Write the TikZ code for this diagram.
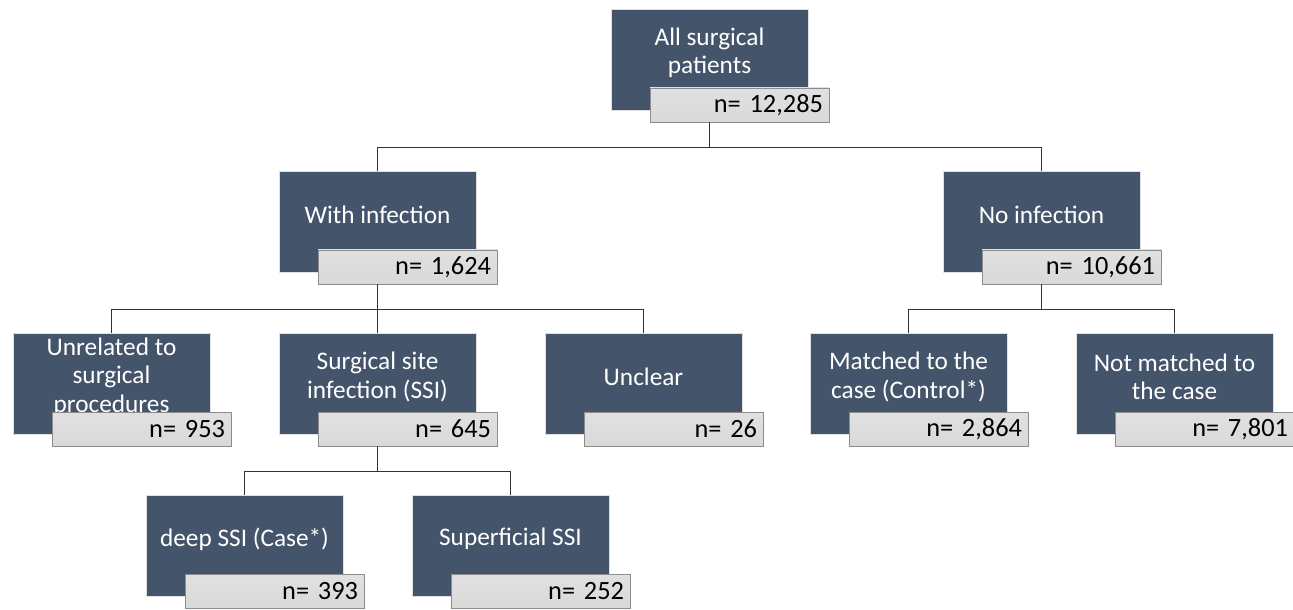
\documentclass[tikz,border=0pt]{standalone}
\usepackage{fontspec}
\setmainfont{Carlito}
\usetikzlibrary{calc}
\definecolor{slate}{HTML}{44546A}
\definecolor{countfill}{HTML}{D9D9D9}
\definecolor{countline}{HTML}{8C8C8C}
\tikzset{
  catbox/.style={draw=black!12,line width=0.4pt,fill=slate,minimum width=197*0.02cm,minimum height=101*0.02cm,inner sep=0pt},
  cattext/.style={text=white,align=center,font=\fontsize{14.4}{16.2}\selectfont,inner sep=0pt},
  countbox/.style={draw=countline,line width=0.5pt,top color=countfill!80,bottom color=countfill,minimum width=179*0.02cm,minimum height=34*0.02cm,text width=167*0.02cm,align=right,inner sep=0pt,font=\fontsize{15}{17}\selectfont},
  link/.style={draw=black!80,line width=0.9pt}
}
\begin{document}
\begin{tikzpicture}[x=0.02cm,y=0.02cm]
  % Constants
  \pgfmathsetmacro\cx{30}
  \pgfmathsetmacro\cy{-45}
  \pgfmathsetmacro\t{7}
  % Boundary
  \path[use as bounding box] (0,0) rectangle (1293,609);
  % Top
  \node[catbox] (all) at (709.5,549) {};
  \node[cattext] (alltext) at ($(all)+(0,\t)$) {All surgical\\patients};
  \node[countbox] (allcount) at ($(all)+(\cx,\cy)$) {n= 12,285};
  % Infection split
  \node[catbox] (withinf) at (377.5,387) {};
  \node[cattext] (withinftext) at ($(withinf)+(0,\t)$) {With infection};
  \node[countbox] (withinfcount) at ($(withinf)+(\cx,\cy)$) {n= 1,624};
  \node[catbox] (noinf) at (1041.5,387) {};
  \node[cattext] (noinftext) at ($(noinf)+(0,\t)$) {No infection};
  \node[countbox] (noinfcount) at ($(noinf)+(\cx,\cy)$) {n= 10,661};
  % Third row
  \node[catbox] (unrel) at (111.5,225) {};
  \node[cattext] (unreltext) at ($(unrel)+(0,\t)$) {Unrelated to\\surgical\\procedures};
  \node[countbox] (unrelcount) at ($(unrel)+(\cx,\cy)$) {n= 953};
  \node[catbox] (ssi) at (377.5,225) {};
  \node[cattext] (ssitext) at ($(ssi)+(0,\t)$) {Surgical site\\infection (SSI)};
  \node[countbox] (ssicount) at ($(ssi)+(\cx,\cy)$) {n= 645};
  \node[catbox] (unclear) at (643.5,225) {};
  \node[cattext] (uncleartext) at ($(unclear)+(0,\t)$) {Unclear};
  \node[countbox] (unclearcount) at ($(unclear)+(\cx,\cy)$) {n= 26};
  \node[catbox] (matched) at (908.5,225) {};
  \node[cattext] (matchedtext) at ($(matched)+(0,\t)$) {Matched to the\\case (Control*)};
  \node[countbox] (matchedcount) at ($(matched)+(\cx,\cy)$) {n= 2,864};
  \node[catbox] (notmatched) at (1174.5,225) {};
  \node[cattext] (notmatchedtext) at ($(notmatched)+(0,\t)$) {Not matched to\\the case};
  \node[countbox] (notmatchedcount) at ($(notmatched)+(\cx,\cy)$) {n= 7,801};
  % SSI split
  \node[catbox] (deep) at (244.5,63) {};
  \node[cattext] (deeptext) at ($(deep)+(0,\t)$) {deep SSI (Case*)};
  \node[countbox] (deepcount) at ($(deep)+(\cx,\cy)$) {n= 393};
  \node[catbox] (superf) at (510.5,63) {};
  \node[cattext] (superftext) at ($(superf)+(0,\t)$) {Superficial SSI};
  \node[countbox] (superfcount) at ($(superf)+(\cx,\cy)$) {n= 252};
  % Connectors
  \draw[link] (all |- allcount.south) -- ++(0,-25) coordinate (allsplit);
  \draw[link] (allsplit) -| (withinf.north);
  \draw[link] (allsplit) -| (noinf.north);
  \draw[link] (withinf |- withinfcount.south) -- ++(0,-25) coordinate (withinfsplit);
  \draw[link] (withinfsplit) -| (unrel.north);
  \draw[link] (withinfsplit) -| (ssi.north);
  \draw[link] (withinfsplit) -| (unclear.north);
  \draw[link] (noinf |- noinfcount.south) -- ++(0,-25) coordinate (noinfsplit);
  \draw[link] (noinfsplit) -| (matched.north);
  \draw[link] (noinfsplit) -| (notmatched.north);
  \draw[link] (ssi |- ssicount.south) -- ++(0,-25) coordinate (ssisplit);
  \draw[link] (ssisplit) -| (deep.north);
  \draw[link] (ssisplit) -| (superf.north);
\end{tikzpicture}
\end{document}
